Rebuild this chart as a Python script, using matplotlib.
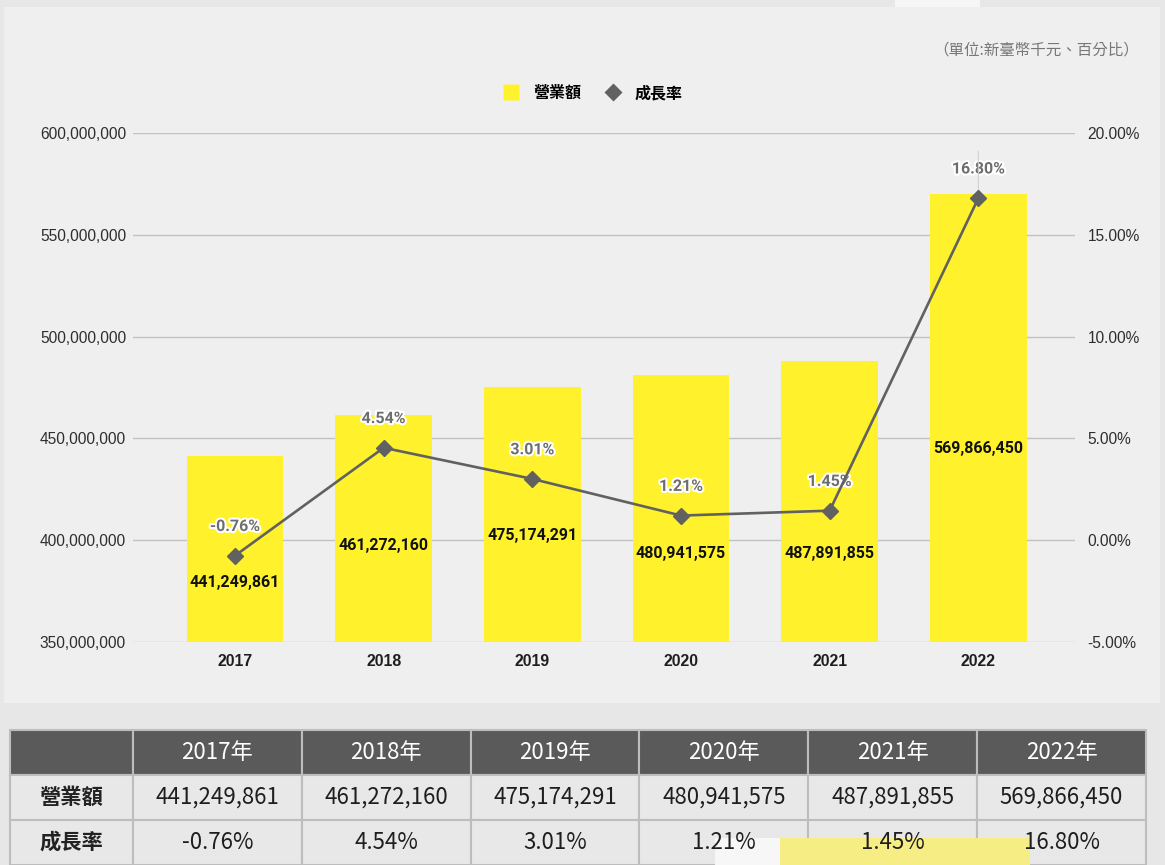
import matplotlib.pyplot as plt
import matplotlib.patheffects as pe
from matplotlib.patches import Rectangle
from matplotlib.lines import Line2D
from matplotlib.ticker import FuncFormatter, MultipleLocator

years = ['2017', '2018', '2019', '2020', '2021', '2022']
revenue = [441249861, 461272160, 475174291, 480941575, 487891855, 569866450]
growth = [-0.76, 4.54, 3.01, 1.21, 1.45, 16.80]
# where the revenue labels sit inside the bars (left-axis units)
label_pos = [379.0e6, 397.2e6, 402.1e6, 393.7e6, 393.7e6, 444.8e6]

table_cols = ['2017年', '2018年', '2019年', '2020年', '2021年', '2022年']
row_names = ['營業額', '成長率']

bar_c = '#fff22c'
line_c = '#616161'
cjk = ['Noto Sans CJK TC', 'DejaVu Sans']
narrow = ['Liberation Sans Narrow', 'Noto Sans CJK TC', 'DejaVu Sans']

W, H = 1165, 865
fig = plt.figure(figsize=(W / 100, H / 100), dpi=100)
fig.patch.set_facecolor('#e7e7e7')

# chart panel
fig.patches.append(Rectangle((4 / W, 1 - 703 / H), 1156 / W, 696 / H,
                             transform=fig.transFigure, facecolor='#efefef',
                             edgecolor='none', zorder=-2))
fig.patches.append(Rectangle((895 / W, 1 - 7 / H), 85 / W, 7 / H,
                             transform=fig.transFigure, facecolor='#f6f6f6',
                             edgecolor='none', zorder=-2))

ax = fig.add_axes([133 / W, 1 - 642 / H, 942 / W, 509 / H])
ax.patch.set_visible(False)
x = range(len(years))
ax.bar(x, revenue, width=0.65, color=bar_c, zorder=2)
ax.set_ylim(350e6, 600e6)
ax.set_xlim(-0.686, 5.65)
ax.yaxis.set_major_locator(MultipleLocator(50e6))
ax.yaxis.set_major_formatter(FuncFormatter(lambda v, p: f'{int(v):,}'))
ax.grid(axis='y', color='#c2c2c2', linewidth=1.0, zorder=1)
ax.set_axisbelow(True)
for s in ax.spines.values():
    s.set_visible(False)
ax.tick_params(axis='y', length=0, pad=5, labelsize=11.2, labelcolor='#2e2e2e')
ax.tick_params(axis='x', length=0, pad=9)
ax.set_xticks(list(x))
ax.set_xticklabels(years, fontsize=11.4, fontweight='bold', color='#1e1e1e',
                   family='Liberation Sans')
for lab in ax.get_yticklabels():
    lab.set_family('Liberation Sans')

for i, v in enumerate(revenue):
    ax.text(i, label_pos[i], f'{v:,}', ha='center', va='center', fontsize=11.5,
            fontweight='bold', color='#111111', family='Roboto', zorder=5)

ax2 = ax.twinx()
ax2.patch.set_visible(False)
ax2.set_ylim(-5, 20)
ax2.yaxis.set_major_locator(MultipleLocator(5))
ax2.yaxis.set_major_formatter(FuncFormatter(lambda v, p: f'{v:.2f}%'))
for s in ax2.spines.values():
    s.set_visible(False)
ax2.tick_params(axis='y', length=0, pad=9, labelsize=11.2, labelcolor='#2e2e2e')
for lab in ax2.get_yticklabels():
    lab.set_family('Liberation Sans')
ax2.plot(x, growth, color=line_c, linewidth=1.9, marker='D', markersize=8.5,
         zorder=4)
for i, g in enumerate(growth):
    t = ax2.annotate(f'{g:.2f}%', (i, g), xytext=(0, 21), textcoords='offset points',
                     ha='center', va='center', fontsize=11.5, fontweight='bold',
                     color='#6e6e6e', family='Roboto')
    t.set_path_effects([pe.withStroke(linewidth=3, foreground='white')])
ax2.annotate('', (5, growth[5]), xytext=(5, growth[5] + 2.3),
             arrowprops=dict(arrowstyle='-', color='#cfcfcf', linewidth=0.8,
                             shrinkA=0, shrinkB=4))

# legend
handles = [Line2D([], [], marker='s', linestyle='none', markersize=11.5,
                  markerfacecolor=bar_c, markeredgecolor='none'),
           Line2D([], [], marker='D', linestyle='none', markersize=9,
                  markerfacecolor=line_c, markeredgecolor='none')]
fig.legend(handles, row_names, loc='center', bbox_to_anchor=(589 / W, 1 - 93 / H),
           ncol=2, frameon=False, handletextpad=0.35, columnspacing=1.0,
           prop={'family': cjk, 'weight': 'bold', 'size': 11.5})

fig.text(1139 / W, 1 - 50 / H, '（單位:新臺幣千元、百分比）', ha='right', va='center',
         fontsize=11.2, color='#777777', family=cjk)

# table
tab = fig.add_axes([0, 0, 1, 1], zorder=-1)
tab.patch.set_visible(False)
tab.set_xlim(0, W)
tab.set_ylim(H, 0)
tab.axis('off')
col_x = [10, 133] + [133 + 168.83 * (k + 1) for k in range(6)]
row_y = [730, 775, 820, 865]
cells = [table_cols,
         [f'{v:,}' for v in revenue],
         [f'{g:.2f}%' for g in growth]]
for r in range(3):
    for c in range(7):
        x0, x1 = col_x[c], col_x[c + 1]
        y0, y1 = row_y[r], row_y[r + 1]
        fc = '#5a5a5a' if r == 0 else '#e8e8e8'
        tab.add_patch(Rectangle((x0, y0), x1 - x0, y1 - y0, facecolor=fc,
                                edgecolor='#bdbdbd', linewidth=1.5))
        if r == 0 and c == 0:
            continue
        if c == 0:
            tab.text((x0 + x1) / 2, (y0 + y1) / 2, row_names[r - 1], ha='center',
                     va='center', fontsize=15.3, fontweight='bold', color='#222222',
                     family=cjk, zorder=5)
        else:
            col = 'white' if r == 0 else '#1e1e1e'
            tab.text((x0 + x1) / 2, (y0 + y1) / 2, cells[r][c - 1], ha='center',
                     va='center', fontsize=16, color=col, family=narrow, zorder=5)
# overlay highlight on the last row
tab.add_patch(Rectangle((715, 838), 65, 30, facecolor='#f7f7f7', edgecolor='none',
                        zorder=3))
tab.add_patch(Rectangle((780, 838), 250, 30, facecolor='#f6ee85', edgecolor='none',
                        zorder=3))

fig.savefig('out.png', dpi=100, facecolor=fig.get_facecolor())
